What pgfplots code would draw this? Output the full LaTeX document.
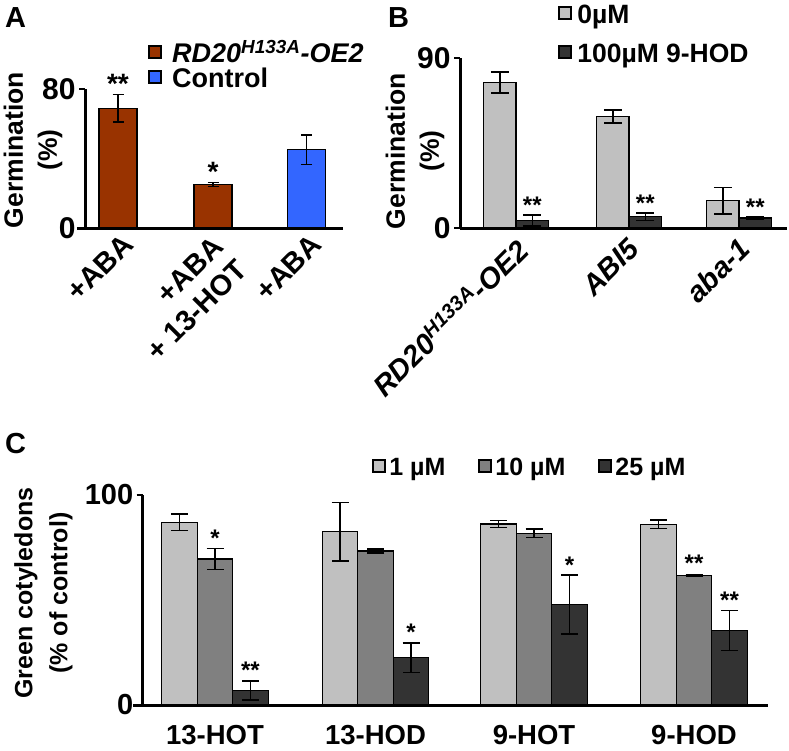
\documentclass[border=0pt]{standalone}
\usepackage{fontspec}
\setmainfont{Liberation Sans}
\usepackage{pgfplots}
\pgfplotsset{compat=1.18}
\definecolor{brn}{RGB}{153,51,0}
\definecolor{blu}{RGB}{51,102,255}
\definecolor{lg}{RGB}{192,192,192}
\definecolor{mg}{RGB}{128,128,128}
\definecolor{dg}{RGB}{51,51,51}
\pgfplotsset{
  panel/.style={scale only axis, anchor=south west, axis x line=bottom, axis y line=left,
    axis line style={-, line width=3pt, black}, tick align=outside, major tick length=6pt,
    ytick style={line width=2pt, black}, xtick style={draw=none}, ymin=0, clip=false,
    /pgf/number format/assume math mode=true, legend cell align=left},
  legsq/.style={/pgfplots/legend image code/.code={\draw[##1, draw=black, line width=2pt] (0pt,-6pt) rectangle (12pt,6pt);}},
}
\newcommand\sig[3]{\node[anchor=base, font=\fontsize{#1}{#1}\selectfont] at (axis cs:#2) {#3};}
\begin{document}
\bfseries
\begin{tikzpicture}
\useasboundingbox (0,0) rectangle (789pt,-750pt);
% panel letters and y labels
\node[anchor=base west, inner sep=0pt, font=\fontsize{29}{29}\selectfont] at (5pt,-27pt) {A};
\node[anchor=base west, inner sep=0pt, font=\fontsize{29}{29}\selectfont] at (388pt,-27pt) {B};
\node[anchor=base west, inner sep=0pt, font=\fontsize{29}{29}\selectfont] at (5pt,-453pt) {C};
\node[rotate=90, align=center, font=\fontsize{26.5}{34}\selectfont] at (33pt,-150pt) {Germination\\(\%)};
\node[rotate=90, align=center, font=\fontsize{26.5}{34}\selectfont] at (415pt,-151pt) {Germination\\(\%)};
\node[rotate=90, align=center, font=\fontsize{25}{35}\selectfont] at (43.5pt,-593pt) {Green cotyledons\\(\% of control)};

% ---------------- Panel A
\begin{axis}[panel, at={(85pt,-228pt)}, width=258pt, height=139pt,
  xmin=85, xmax=343, ymax=80, ytick={0,80},
  yticklabel style={font=\fontsize{30}{30}\selectfont},
  xtick={118,206,306.5},
  xticklabels={+ABA,{\begin{tabular}{@{}r@{}}+ABA\\+ 13-HOT\end{tabular}},+ABA},
  xticklabel style={xshift=3pt, yshift=2pt, rotate=45, anchor=north east, inner sep=0pt,
    font=\fontsize{29}{33}\selectfont},
  legend style={draw=none, fill=none, at={(0.244,1.338)}, anchor=north west, inner sep=0pt,
    row sep=5pt, column sep=10pt, font=\fontsize{27}{27}\selectfont,
    nodes={inner sep=0pt, text height=20pt, text depth=0pt}},
  bar width=38, ybar=0pt, bar shift=0pt]
\addplot[fill=brn, draw=black, line width=1.2pt, legsq,
  error bars/.cd, y dir=both, y explicit,
  error bar style={line width=1.3pt, black}, error mark options={rotate=90, line width=1.3pt, black, mark size=5.5pt}]
  coordinates {(118,69) +- (0,8) (213,25) +- (0,1.3)};
\addlegendentry{\textit{RD20\textsuperscript{H133A}-OE2}}
\addplot[fill=blu, draw=black, line width=1.2pt, legsq,
  error bars/.cd, y dir=both, y explicit,
  error bar style={line width=1.3pt, black}, error mark options={rotate=90, line width=1.3pt, black, mark size=5.5pt}]
  coordinates {(306.5,45) +- (0,8.5)};
\addlegendentry{Control}
\draw[line width=3pt] (axis cs:77,0) -- (axis cs:86,0);
\sig{28}{118,77.5}{**}
\sig{28}{213,27}{*}
\end{axis}

% ---------------- Panel B
\begin{axis}[panel, at={(460pt,-228pt)}, width=327pt, height=170pt,
  xmin=460, xmax=787, ymax=90, ytick={0,90},
  yticklabel style={font=\fontsize{30}{30}\selectfont},
  xtick={516,629,739},
  xticklabels={\textit{RD20\textsuperscript{H133A}-OE2},\textit{ABI5},\textit{aba-1}},
  xticklabel style={xshift=-2pt, yshift=-2pt, rotate=45, anchor=north east, inner sep=0pt,
    font=\fontsize{29}{30}\selectfont},
  legend style={draw=none, fill=none, at={(0.30,1.3235)}, anchor=north west, inner sep=0pt,
    row sep=19pt, column sep=5pt, font=\fontsize{26.5}{26.5}\selectfont,
    nodes={inner sep=0pt, text height=20pt, text depth=0pt}},
  bar width=32.5, ybar=0pt]
\addplot[fill=lg, draw=black, line width=1.2pt, legsq,
  error bars/.cd, y dir=both, y explicit,
  error bar style={line width=1.5pt, black}, error mark options={rotate=90, line width=1.5pt, black, mark size=9pt}]
  coordinates {(516,77) +- (0,5.5) (629,59) +- (0,3.5) (739,14.5) +- (0,7)};
\addlegendentry{0µM}
\addplot[fill=dg, draw=black, line width=1.2pt, legsq,
  error bars/.cd, y dir=both, y explicit,
  error bar style={line width=1.5pt, black}, error mark options={rotate=90, line width=1.5pt, black, mark size=9pt}]
  coordinates {(516,4) +- (0,3) (629,6) +- (0,2) (739,5.3) +- (0,0.5)};
\addlegendentry{100µM 9-HOD}
\sig{24}{532.25,7.6}{**}
\sig{24}{645.25,8.5}{**}
\sig{24}{755.25,6.5}{**}
\end{axis}

% ---------------- Panel C
\begin{axis}[panel, at={(142.7pt,-705pt)}, width=625.3pt, height=210pt,
  xmin=142.7, xmax=768, ymax=100, ytick={0,100},
  yticklabel style={font=\fontsize{29}{29}\selectfont},
  xtick={215,375.5,534,694}, xticklabels={13-HOT,13-HOD,9-HOT,9-HOD},
  xticklabel style={anchor=base, yshift=-33pt, font=\fontsize{27.5}{27.5}\selectfont},
  legend columns=3,
  legend style={draw=none, fill=none, at={(0.367,1.181)}, anchor=north west, inner sep=0pt,
    column sep=3pt, font=\fontsize{25}{25}\selectfont,
    /tikz/every even column/.append style={column sep=33pt},
    nodes={inner sep=0pt, text height=18pt, text depth=0pt}},
  bar width=35.5, ybar=0pt]
\addplot[fill=lg, draw=black, line width=1.2pt, legsq,
  error bars/.cd, y dir=both, y explicit,
  error bar style={line width=1.5pt, black}, error mark options={rotate=90, line width=1.5pt, black, mark size=8.5pt}]
  coordinates {(215,87) +- (0,4) (375.5,82.5) +- (0,14) (534,86.2) +- (0,1.6) (694,86) +- (0,2)};
\addlegendentry{1 µM}
\addplot[fill=mg, draw=black, line width=1.2pt, legsq,
  error bars/.cd, y dir=both, y explicit,
  error bar style={line width=1.5pt, black}, error mark options={rotate=90, line width=1.5pt, black, mark size=8.5pt}]
  coordinates {(215,69.5) +- (0,5) (375.5,73.3) +- (0,1) (534,81.7) +- (0,2) (694,61.6) +- (0,0.5)};
\addlegendentry{10 µM}
\addplot[fill=dg, draw=black, line width=1.2pt, legsq,
  error bars/.cd, y dir=both, y explicit,
  error bar style={line width=1.5pt, black}, error mark options={rotate=90, line width=1.5pt, black, mark size=8.5pt}]
  coordinates {(215,7) +- (0,4.5) (375.5,22.5) +- (0,7) (534,47.8) +- (0,14) (694,35.4) +- (0,9.5)};
\addlegendentry{25 µM}
\draw[line width=3pt] (axis cs:133,0) -- (axis cs:144,0);
\sig{24}{215,75.5}{*}
\sig{24}{250.5,12.5}{**}
\sig{24}{411,30.5}{*}
\sig{24}{569.5,62.8}{*}
\sig{24}{694,63.5}{**}
\sig{24}{729.5,46}{**}
\end{axis}
\end{tikzpicture}
\end{document}
